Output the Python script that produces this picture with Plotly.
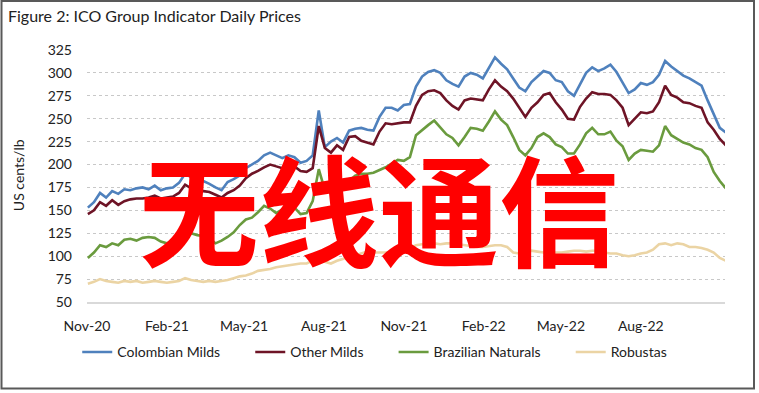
import pandas as pd
import plotly.graph_objects as go

# Weekly readings (Mondays) from 2 Nov 2020 to 31 Oct 2022
dates = pd.date_range("2020-11-02", periods=106, freq="7D")

colombian_milds = [
    153, 159, 169, 164, 171, 168, 173, 172, 174, 175, 173, 177, 172, 174, 175, 180,
    190, 186, 183, 182, 179, 175, 172, 181, 184, 188, 196, 200, 204, 210, 213, 210,
    207, 210, 208, 202, 204, 210, 259, 219, 225, 229, 224, 237, 239, 240, 238, 237,
    252, 262, 262, 259, 265, 266, 285, 296, 301, 303, 300, 292, 288, 285, 296, 300,
    298, 294, 306, 317, 310, 304, 294, 284, 280, 290, 296, 302, 300, 292, 290, 280,
    275, 288, 300, 306, 302, 305, 309, 301, 290, 278, 282, 289, 287, 290, 298, 313,
    307, 302, 297, 294, 290, 286, 270, 255, 240, 235,
]
other_milds = [
    146, 150, 159, 155, 161, 156, 160, 162, 163, 163, 164, 166, 163, 164, 165, 169,
    178, 174, 172, 171, 170, 167, 164, 169, 172, 177, 185, 190, 193, 197, 200, 198,
    196, 197, 198, 193, 192, 196, 242, 218, 213, 221, 216, 230, 231, 226, 224, 222,
    236, 245, 244, 245, 246, 246, 264, 276, 280, 281, 278, 270, 264, 260, 270, 272,
    271, 270, 282, 292, 285, 280, 272, 262, 252, 262, 268, 276, 278, 268, 260, 250,
    249, 263, 272, 279, 277, 277, 276, 270, 262, 243, 250, 257, 256, 258, 268, 286,
    276, 273, 268, 267, 264, 262, 246, 238, 228, 221,
]
brazilian_naturals = [
    98, 104, 112, 110, 114, 112, 118, 119, 117, 120, 121, 120, 116, 114, 117, 120,
    128, 125, 123, 122, 119, 114, 117, 121, 126, 134, 140, 142, 148, 155, 152, 147,
    151, 150, 153, 146, 147, 160, 195, 172, 173, 179, 180, 182, 188, 190, 190, 191,
    194, 197, 201, 205, 204, 208, 232, 238, 243, 248, 240, 233, 229, 221, 230, 240,
    239, 237, 247, 258, 249, 243, 230, 216, 210, 218, 230, 234, 230, 222, 219, 212,
    212, 222, 234, 240, 233, 233, 236, 226, 220, 205, 212, 216, 215, 214, 221, 242,
    232, 228, 224, 222, 218, 216, 208, 192, 182, 174,
]
robustas = [
    70, 72, 75, 73, 72, 71, 73, 72, 73, 71, 72, 73, 72, 71, 72, 73,
    76, 74, 73, 72, 73, 72, 73, 74, 76, 78, 79, 81, 84, 85, 86, 88,
    89, 90, 91, 92, 92, 95, 98, 94, 92, 95, 97, 99, 101, 103, 105, 104,
    104, 104, 105, 106, 107, 109, 112, 113, 114, 114, 113, 114, 114, 113, 112, 111,
    110, 110, 111, 112, 112, 110, 104, 103, 104, 106, 105, 104, 104, 104, 104, 105,
    106, 106, 105, 106, 106, 104, 103, 103, 101, 100, 101, 103, 104, 107, 113, 114,
    112, 114, 113, 110, 110, 109, 107, 104, 98, 95,
]

series_names = ["Colombian Milds", "Other Milds", "Brazilian Naturals", "Robustas"]
series_values = [colombian_milds, other_milds, brazilian_naturals, robustas]
series_colors = ["#4F81BD", "#6E1426", "#6A9B3E", "#EBD4A4"]

tick_dates = ["2020-11-01", "2021-02-01", "2021-05-01", "2021-08-01",
              "2021-11-01", "2022-02-01", "2022-05-01", "2022-08-01"]
tick_labels = ["Nov-20", "Feb-21", "May-21", "Aug-21",
               "Nov-21", "Feb-22", "May-22", "Aug-22"]
y_ticks = [50, 75, 100, 125, 150, 175, 200, 225, 250, 275, 300, 325]

FONT = "Lato, 'Open Sans', sans-serif"
TXT = "#222222"
PAD = "&nbsp;" * 7

fig = go.Figure()
for i, (name, vals, col) in enumerate(zip(series_names, series_values, series_colors)):
    label = name + (PAD if i < len(series_names) - 1 else "")
    fig.add_trace(go.Scatter(x=dates, y=vals, mode="lines", name=label,
                             line=dict(color=col, width=2.6)))

fig.update_layout(
    width=759, height=393,
    margin=dict(l=87, r=34, t=50, b=91),
    paper_bgcolor="white", plot_bgcolor="white",
    font=dict(family=FONT, size=14, color=TXT),
    title=dict(text="Figure 2: ICO Group Indicator Daily Prices",
               x=8 / 759, xanchor="left", xref="container",
               y=1 - 16 / 393, yanchor="middle", yref="container",
               font=dict(family=FONT, size=16, color=TXT)),
    showlegend=True,
    legend=dict(orientation="h", x=0.451, xanchor="center", y=-0.2, yanchor="middle",
                font=dict(family=FONT, size=14, color=TXT),
                itemwidth=30, tracegroupgap=0, bgcolor="rgba(0,0,0,0)"),
)

fig.update_xaxes(
    range=["2020-11-01", "2022-11-06"],
    tickvals=tick_dates, ticktext=tick_labels,
    showgrid=False, zeroline=False,
    showline=True, linecolor="#D9D9D9", linewidth=1.5,
    ticks="", ticklabelstandoff=10,
    tickfont=dict(family=FONT, size=14, color=TXT),
)
fig.update_yaxes(
    range=[50, 325], tickvals=y_ticks,
    showgrid=True, gridcolor="#C8C8C8", griddash="dot", gridwidth=1,
    zeroline=False, showline=False, ticks="", ticklabelstandoff=14,
    tickfont=dict(family=FONT, size=14, color=TXT),
)

# y-axis title
fig.add_annotation(text="US cents/lb", xref="paper", yref="paper",
                   x=(18 - 87) / 638, y=(301.7 - 175) / 251.7,
                   xanchor="center", yanchor="middle",
                   textangle=-90, showarrow=False,
                   font=dict(family=FONT, size=14, color=TXT))

# red watermark text
fig.add_annotation(text="<b>无线通信</b>", xref="paper", yref="paper",
                   x=(379 - 87) / 638, y=(301.7 - 206) / 251.7,
                   xanchor="center", yanchor="middle", showarrow=False,
                   font=dict(family="Noto Sans CJK SC", size=120, color="#FF0000"))

# outer border
fig.add_shape(type="rect", xref="paper", yref="paper",
              x0=(1.5 - 87) / 638, x1=(754 - 87) / 638,
              y0=(301.7 - 388) / 251.7, y1=(301.7 - 1) / 251.7,
              line=dict(color="#595959", width=2), fillcolor="rgba(0,0,0,0)",
              layer="above")

fig.write_html("out.html", config={"displayModeBar": False},
               post_script="document.body.style.margin='0';document.body.style.padding='0';")
